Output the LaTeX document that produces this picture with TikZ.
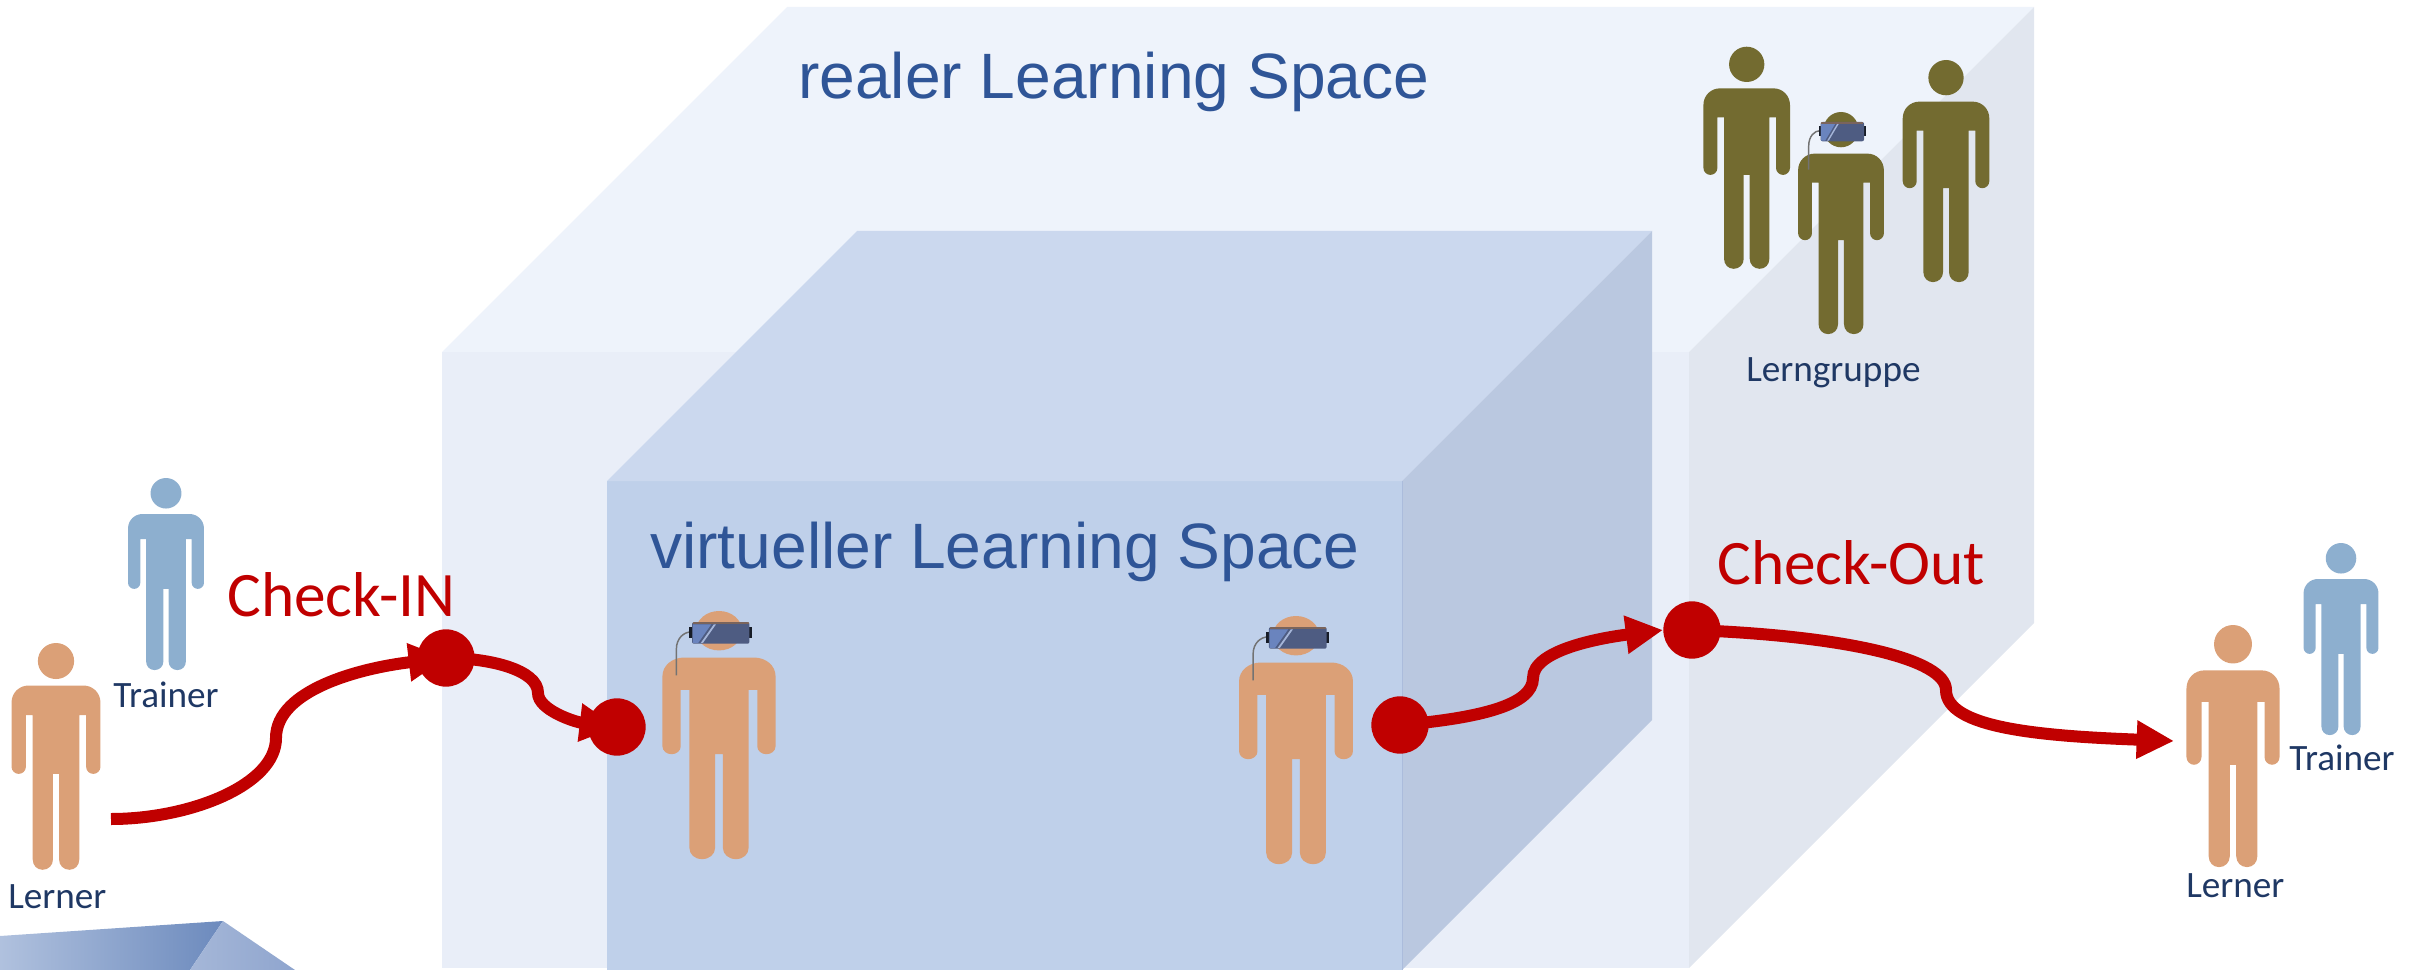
\documentclass[tikz,border=0pt]{standalone}
\usepackage{fontspec}
\setmainfont{Liberation Sans}
\newfontfamily\carl{Carlito}
\usetikzlibrary{arrows.meta}
\pgfdeclarelayer{front}
\pgfsetlayers{main,front}
\definecolor{outerTop}{HTML}{EEF3FB}
\definecolor{outerFront}{HTML}{E9EEF8}
\definecolor{outerRight}{HTML}{E1E6EF}
\definecolor{innerTop}{HTML}{CBD8EE}
\definecolor{innerFront}{HTML}{BFD0EA}
\definecolor{innerRight}{HTML}{BAC8E0}
\definecolor{edgeLine}{HTML}{ABBCDC}
\definecolor{redC}{HTML}{C00000}
\definecolor{labelC}{HTML}{1F3864}
\definecolor{spaceC}{HTML}{2F5597}
\definecolor{orangeP}{HTML}{DBA077}
\definecolor{blueP}{HTML}{8DAFCF}
\definecolor{oliveP}{HTML}{736B30}
\definecolor{setDark}{HTML}{4E5C82}
\definecolor{setLight}{HTML}{6A84BE}
\definecolor{fragA}{HTML}{B0C1DE}
\definecolor{fragB}{HTML}{6C8ABD}
\definecolor{fragC}{HTML}{A5B7D8}
\definecolor{fragD}{HTML}{8FA5CE}
\tikzset{
  person/.pic={
    \fill (0,53) circle[x radius=53,y radius=53];
    \fill (-80,125) -- (80,125) .. controls (108,125) and (130,147) .. (130,175)
      -- (130,364) .. controls (130,376) and (120,385) .. (109,385)
      .. controls (98,385) and (88,376) .. (88,364) -- (88,212) -- (68,212)
      -- (68,637) .. controls (68,654) and (56,667) .. (39,667)
      .. controls (22,667) and (9,654) .. (9,637) -- (9,385) -- (-9,385)
      -- (-9,637) .. controls (-9,654) and (-22,667) .. (-39,667)
      .. controls (-56,667) and (-68,654) .. (-68,637) -- (-68,212) -- (-88,212)
      -- (-88,364) .. controls (-88,376) and (-98,385) .. (-109,385)
      .. controls (-120,385) and (-130,376) .. (-130,364) -- (-130,175)
      .. controls (-130,147) and (-108,125) .. (-80,125) -- cycle;
  },
  vrset/.pic={
    \draw[gray!90!black,line width=1.1pt] (-98,173) -- (-98,103) .. controls (-98,72) and (-80,56) .. (-63,56);
    \fill[black!70!setDark] (-68,42) rectangle (-58,72);
    \fill[black!70!setDark] (68,42) rectangle (76,72);
    \fill[setDark,rounded corners=1.5pt] (-62,30) rectangle (70,88);
    \fill[setLight] (-60,36) -- (-18,36) -- (-48,86) -- (-60,86) -- cycle;
    \fill[white!40!setLight] (-12,36) -- (-7,36) -- (-37,86) -- (-42,86) -- cycle;
    \fill[black!35!orangeP,opacity=.7] (-60,30) rectangle (68,36);
  },
  txt/.style={inner sep=0pt,anchor=base west},
  smalllabel/.style={txt,text=labelC,font=\carl\fontsize{27.9}{30}\selectfont},
  checklabel/.style={txt,text=redC,font=\carl\fontsize{47.5}{50}\selectfont},
  spacelabel/.style={txt,text=spaceC,font=\fontsize{48.1}{52}\selectfont},
  dotnode/.style={circle,fill=redC,inner sep=0pt,minimum size=43pt},
  flow/.style={draw=redC,line width=9pt,-{Triangle[length=28pt,width=27pt]}}
}
\begin{document}
\begin{tikzpicture}[x=0.75pt,y=-0.75pt]
\useasboundingbox (0,0) rectangle (2421,970);

% outer box
\fill[outerFront] (442,352) rectangle (1689,968);
\fill[outerTop] (442,352) -- (787,7) -- (2034,7) -- (1689,352) -- cycle;
\fill[outerRight] (1689,352) -- (2034,7) -- (2034,623) -- (1689,968) -- cycle;

% inner box
\fill[innerFront] (607,481) rectangle (1402,970);
\fill[innerTop] (607,481) -- (857,231) -- (1652,231) -- (1402,481) -- cycle;
\fill[innerRight] (1402,481) -- (1652,231) -- (1652,720) -- (1402,970) -- cycle;
\draw[edgeLine,line width=0.7pt] (1402,481) -- (1402,970);

% lower left fragment
\shade[left color=fragA,right color=fragB]
  (0,936) -- (223,921) -- (190,970) -- (0,970) -- cycle;
\shade[left color=fragC,right color=fragD]
  (223,921) -- (295,970) -- (190,970) -- cycle;

% people
\pic[fill=blueP,xscale=0.292,yscale=0.288] at (166,478) {person};
\pic[fill=orangeP,xscale=0.342,yscale=0.340] at (56,643) {person};
\pic[fill=orangeP,xscale=0.435,yscale=0.372] at (719,611) {person};
\pic[xscale=0.435,yscale=0.372] at (719,611) {vrset};
\pic[fill=orangeP,xscale=0.438,yscale=0.372] at (1296,616) {person};
\pic[xscale=0.438,yscale=0.372] at (1296,616) {vrset};
\pic[fill=orangeP,xscale=0.358,yscale=0.363] at (2233,625) {person};
\pic[fill=blueP,xscale=0.288,yscale=0.288] at (2341,543) {person};
\pic[fill=oliveP,xscale=0.333,yscale=0.333] at (1746.7,46.7) {person};
\pic[fill=oliveP,xscale=0.333,yscale=0.333] at (1946,60) {person};
\pic[fill=oliveP,xscale=0.330,yscale=0.333] at (1841,112) {person};
\pic[xscale=0.330,yscale=0.333] at (1841,112) {vrset};

% texts
\node[spacelabel] (realer) at (798,99) {realer Learning Space};
\node[spacelabel] (virtuell) at (650,568) {virtueller Learning Space};
\node[checklabel] (checkin) at (227,616) {Check-IN};
\node[checklabel] (checkout) at (1717,584) {Check-Out};
\node[smalllabel] (trainerL) at (113,707) {Trainer};
\node[smalllabel] (lernerL) at (8,908) {Lerner};
\node[smalllabel] (gruppe) at (1746,381) {Lerngruppe};
\node[smalllabel] (trainerR) at (2289,770) {Trainer};
\node[smalllabel] (lernerR) at (2186,897) {Lerner};

% check points
\begin{pgfonlayer}{front}
\node[dotnode] (dotA) at (446,658) {};
\node[dotnode] (dotB) at (617,727) {};
\node[dotnode] (dotC) at (1400,725) {};
\node[dotnode] (dotD) at (1692,630) {};
\end{pgfonlayer}

\coordinate (startL) at (111,819);
\coordinate (endR) at (2174,741);

% connectors
\path[flow] (startL) .. controls (190,819) and (276,785) .. (276,738)
  .. controls (276,690) and (360,668) .. (dotA.center);
\path[flow] (dotA.center) .. controls (490,658) and (538,670) .. (538,693)
  .. controls (538,710) and (575,722) .. (dotB.center);
\path[flow] (dotC.center) .. controls (1480,718) and (1533,705) .. (1533,678)
  .. controls (1533,650) and (1600,638) .. (dotD.west);
\path[flow] (dotD.center) .. controls (1850,636) and (1946,660) .. (1946,690)
  .. controls (1946,728) and (2040,736) .. (endR);
\end{tikzpicture}
\end{document}
